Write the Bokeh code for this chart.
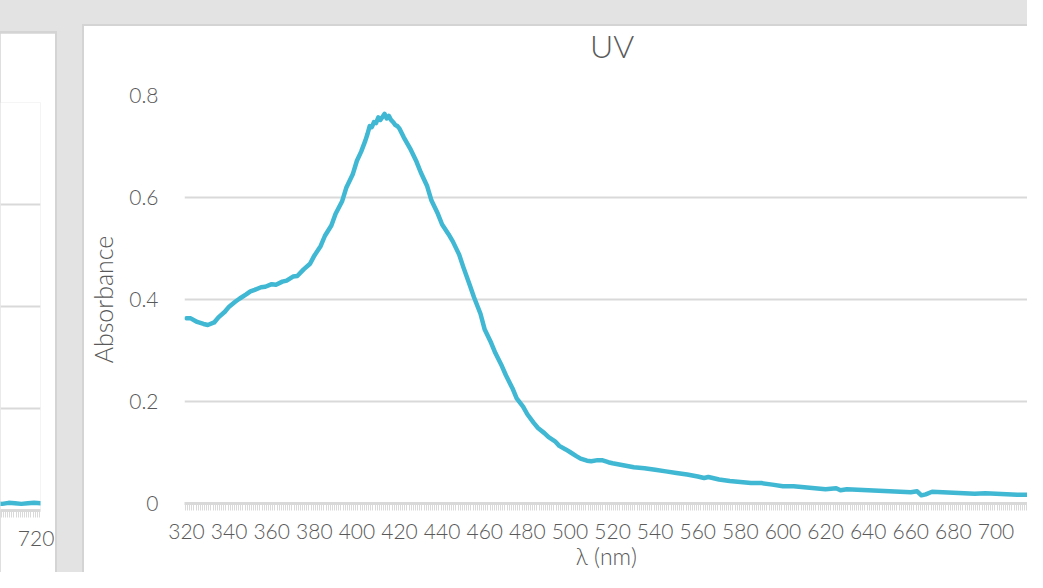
from bokeh.plotting import figure
from bokeh.layouts import row, column
from bokeh.models import FixedTicker, Div
from bokeh.embed import file_html
from bokeh.resources import INLINE

# ---- data ----
wavelength = [320, 322, 325, 328, 330, 333, 335, 338, 340, 343, 345, 348, 350, 352, 355, 357,
              360, 362, 365, 367, 370, 372, 375, 378, 380, 383, 385, 388, 390, 393, 395, 398,
              400, 402, 404, 405, 406, 407, 408, 409, 410, 411, 412, 413, 414, 415, 416, 417,
              418, 419, 420, 422, 425, 428, 430, 433, 435, 438, 440, 443, 445, 448, 450, 453,
              455, 458, 460, 463, 465, 468, 470, 473, 475, 478, 480, 483, 485, 488, 490, 493,
              495, 498, 500, 503, 505, 508, 510, 513, 515, 518, 520, 525, 530, 535, 540, 545,
              550, 555, 560, 563, 565, 570, 575, 580, 585, 590, 595, 600, 605, 610, 615, 620,
              625, 627, 630, 635, 640, 645, 650, 655, 660, 663, 665, 667, 670, 675, 680, 685,
              690, 695, 700, 705, 710, 715, 720, 725]
absorbance = [0.363, 0.363, 0.356, 0.352, 0.350, 0.355, 0.365, 0.376, 0.386, 0.396, 0.402, 0.410,
              0.416, 0.419, 0.424, 0.425, 0.430, 0.429, 0.435, 0.437, 0.445, 0.446, 0.459, 0.470,
              0.486, 0.505, 0.525, 0.545, 0.568, 0.592, 0.619, 0.645, 0.672, 0.690, 0.712, 0.725,
              0.740, 0.738, 0.748, 0.746, 0.757, 0.752, 0.758, 0.764, 0.755, 0.760, 0.752, 0.748,
              0.742, 0.740, 0.735, 0.718, 0.696, 0.670, 0.649, 0.622, 0.594, 0.568, 0.547, 0.528,
              0.514, 0.488, 0.463, 0.428, 0.404, 0.372, 0.341, 0.315, 0.295, 0.270, 0.251, 0.226,
              0.206, 0.190, 0.175, 0.158, 0.148, 0.138, 0.130, 0.122, 0.113, 0.106, 0.101, 0.093,
              0.088, 0.084, 0.083, 0.085, 0.085, 0.081, 0.079, 0.075, 0.071, 0.069, 0.066, 0.063,
              0.060, 0.057, 0.053, 0.050, 0.052, 0.047, 0.044, 0.042, 0.040, 0.040, 0.037, 0.034,
              0.034, 0.032, 0.030, 0.028, 0.030, 0.026, 0.028, 0.027, 0.026, 0.025, 0.024, 0.023,
              0.022, 0.024, 0.016, 0.018, 0.023, 0.022, 0.021, 0.020, 0.019, 0.020, 0.019, 0.018,
              0.017, 0.017, 0.016, 0.015]

left_wavelength = [700, 703, 706, 709, 712, 715, 718, 721, 724]
left_absorbance = [0.014, 0.013, 0.015, 0.014, 0.013, 0.014, 0.015, 0.014, 0.014]

x_major = list(range(320, 721, 20))
y_ticks = [0, 0.2, 0.4, 0.6, 0.8]
y_labels = ["0", "0.2", "0.4", "0.6", "0.8"]
y_grid = [0.2, 0.4, 0.6, 0.8]
title_text = "UV"
x_title = "λ (nm)"
y_title = "Absorbance"

TEXT = "#595959"
GRID = "#d9d9d9"
LINE = "#40b7d3"
BG = "#e3e3e3"
BORDER = "#d4d4d4"
FONT = "Lato Light"

minor = [319.5 + i for i in range(0, 410)]


def style_x_axis(ax):
    ax.axis_line_color = GRID
    ax.axis_line_width = 3
    ax.major_tick_line_color = None
    ax.major_tick_out = 0
    ax.major_tick_in = 0
    ax.minor_tick_line_color = GRID
    ax.minor_tick_line_width = 1
    ax.minor_tick_out = 7
    ax.minor_tick_in = 0
    ax.major_label_text_color = TEXT
    ax.major_label_text_font = FONT
    ax.major_label_text_font_size = "21px"
    ax.major_label_standoff = 13


# ---- title strip of the main chart ----
title_div = Div(
    text=(f'<div style="font-family:\'{FONT}\';font-size:32px;color:{TEXT};line-height:32px;'
          f'padding-top:4px;padding-left:506px;white-space:nowrap">{title_text}</div>'),
    width=943, height=50, margin=(0, 0, 0, 0),
    styles={"background-color": "white"})

# ---- main chart ----
main = figure(width=943, height=496, x_range=(319.06, 714.8), y_range=(0, 0.8),
              output_backend="svg", toolbar_location=None,
              min_border_left=100, min_border_top=19, min_border_bottom=69, min_border_right=0,
              margin=(0, 0, 0, 0))
main.title.visible = False
main.outline_line_color = None
main.background_fill_color = "white"
main.border_fill_color = "white"

main.line(wavelength, absorbance, line_color=LINE, line_width=4.5, line_join="round", line_cap="round")

main.xgrid.grid_line_color = None
main.ygrid.ticker = FixedTicker(ticks=y_grid)
main.ygrid.grid_line_color = GRID
main.ygrid.grid_line_width = 2

main.xaxis.ticker = FixedTicker(ticks=x_major, minor_ticks=minor)
style_x_axis(main.xaxis[0])
main.xaxis.axis_label = x_title
main.xaxis.axis_label_text_font = FONT
main.xaxis.axis_label_text_font_size = "23px"
main.xaxis.axis_label_text_font_style = "normal"
main.xaxis.axis_label_text_color = TEXT
main.xaxis.axis_label_standoff = 0

main.yaxis.ticker = FixedTicker(ticks=y_ticks)
main.yaxis.major_label_overrides = dict(zip(y_ticks, y_labels))
main.yaxis.axis_line_color = None
main.yaxis.major_tick_line_color = None
main.yaxis.minor_tick_line_color = None
main.yaxis.major_tick_out = 0
main.yaxis.major_label_standoff = 26
main.yaxis.major_label_text_color = TEXT
main.yaxis.major_label_text_font = FONT
main.yaxis.major_label_text_font_size = "21px"
main.yaxis.axis_label = y_title
main.yaxis.axis_label_text_font = FONT
main.yaxis.axis_label_text_font_size = "25px"
main.yaxis.axis_label_text_font_style = "normal"
main.yaxis.axis_label_text_color = TEXT
main.yaxis.axis_label_standoff = 8

# ---- partial chart on the left ----
left = figure(width=55, height=539, x_range=(702.2, 721.0), y_range=(0, 0.8),
              output_backend="svg", toolbar_location=None,
              min_border_left=0, min_border_top=69, min_border_bottom=62, min_border_right=15,
              margin=(2, 2, 0, 0))
left.outline_line_color = None
left.border_fill_color = "white"
left.line(left_wavelength, left_absorbance, line_color=LINE, line_width=4.5, line_cap="round")
left.xgrid.grid_line_color = None
left.ygrid.ticker = FixedTicker(ticks=y_grid)
left.ygrid.grid_line_color = GRID
left.ygrid.grid_line_width = 2
left.yaxis.visible = False
left.xaxis.ticker = FixedTicker(ticks=[700, 720], minor_ticks=minor)
style_x_axis(left.xaxis[0])

left_wrap = column(left, styles={"background-color": BORDER}, margin=(31, 0, 0, 0))
main_inner = column(title_div, main, styles={"background-color": "white"}, margin=(2, 0, 0, 2))
main_wrap = column(main_inner, styles={"background-color": BORDER}, margin=(24, 0, 0, 25))
page = row(left_wrap, main_wrap, styles={"background-color": BG}, width=1027, height=572)

open("out.html", "w").write(file_html(page, INLINE))
